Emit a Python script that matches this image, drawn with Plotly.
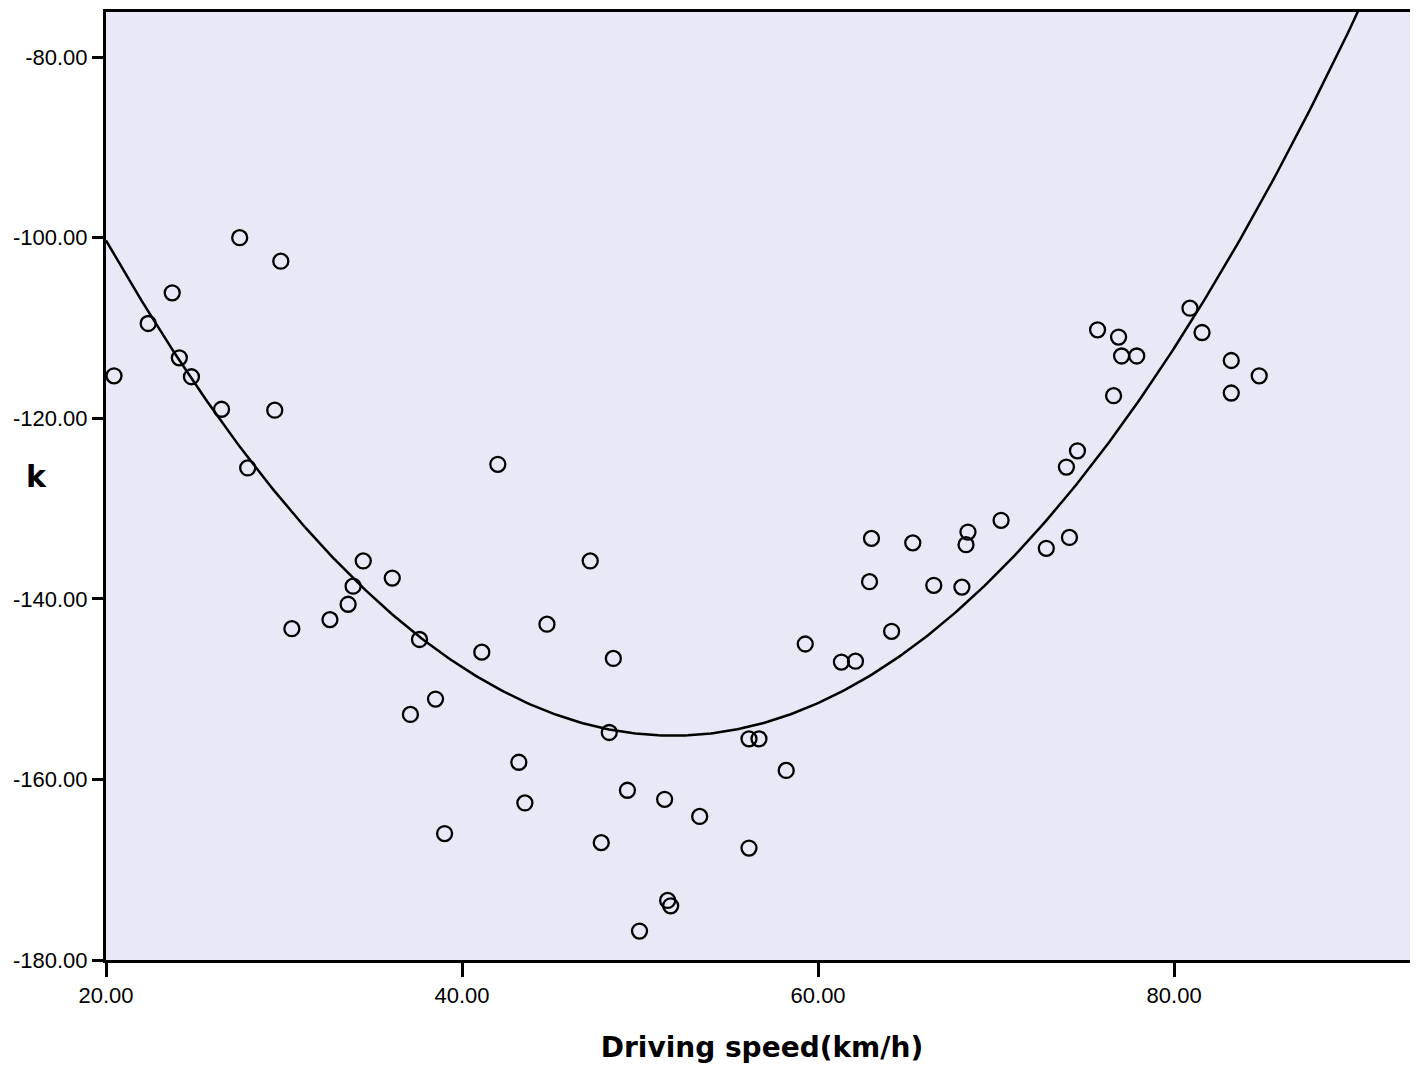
import numpy as np
import plotly.graph_objects as go

speed = [20.45, 22.37, 23.72, 24.12, 24.80, 26.49, 27.51, 27.96, 29.82, 29.48,
         30.44, 32.58, 33.60, 33.88, 34.45, 36.08, 37.61, 37.10, 38.51, 39.02,
         41.11, 42.01, 43.19, 43.53, 44.77, 47.20, 48.27, 48.50, 47.82, 49.29,
         49.97, 51.38, 51.55, 51.72, 53.35, 56.12, 56.68, 56.12, 58.21, 59.28,
         61.31, 62.10, 63.00, 62.89, 64.13, 65.32, 66.50, 68.08, 68.42, 68.31,
         70.28, 72.82, 74.12, 73.95, 74.57, 75.70, 76.88, 77.05, 77.90, 76.60,
         80.89, 81.57, 83.21, 83.21, 84.78]
k_vals = [-115.3, -109.5, -106.1, -113.3, -115.4, -119.0, -100.0, -125.5, -102.6, -119.1,
          -143.3, -142.3, -140.6, -138.6, -135.8, -137.7, -144.5, -152.8, -151.1, -166.0,
          -145.9, -125.1, -158.1, -162.6, -142.8, -135.8, -154.8, -146.6, -167.0, -161.2,
          -176.8, -162.2, -173.4, -174.0, -164.1, -155.5, -155.5, -167.6, -159.0, -145.0,
          -147.0, -146.9, -133.3, -138.1, -143.6, -133.8, -138.5, -138.7, -132.6, -134.0,
          -131.3, -134.4, -133.2, -125.4, -123.6, -110.2, -111.0, -113.1, -113.1, -117.5,
          -107.8, -110.5, -113.6, -117.2, -115.3]

x_ticks = [20, 40, 60, 80]
y_ticks = [-180, -160, -140, -120, -100, -80]
x_range = [20, 93.7]
y_range = [-180, -75]

coef = np.polyfit(speed, k_vals, 2)
xf = np.linspace(x_range[0], x_range[1], 400)
yf = np.polyval(coef, xf)

fig = go.Figure()
fig.add_trace(go.Scatter(x=xf, y=yf, mode="lines", line=dict(color="black", width=2.5),
                         hoverinfo="skip", showlegend=False))
fig.add_trace(go.Scatter(x=speed, y=k_vals, mode="markers",
                         marker=dict(symbol="circle-open", size=15, color="black",
                                     line=dict(width=2.3, color="black")),
                         showlegend=False))

font_fam = "DejaVu Sans, Arial, sans-serif"
tick_font = dict(family="Liberation Sans, Arial, sans-serif", size=22, color="black")
fig.update_layout(
    width=1418, height=1067,
    margin=dict(l=98, r=8, t=4, b=115),
    paper_bgcolor="white", plot_bgcolor="#E8E8F6",
    font=dict(family=font_fam, color="black", size=21),
    xaxis=dict(range=x_range, tickvals=x_ticks, ticktext=[f"{v:.2f}" for v in x_ticks],
               tickfont=tick_font, automargin=False,
               ticks="outside", ticklen=14, tickwidth=3, tickcolor="black",
               showgrid=False, zeroline=False, showline=True, linecolor="black",
               linewidth=3, mirror=True,
               title=dict(text="<b>Driving speed(km/h)</b>", font=dict(size=28), standoff=30)),
    yaxis=dict(range=y_range, tickvals=y_ticks, ticktext=[f"{v:.2f}" for v in y_ticks],
               tickfont=tick_font, automargin=False,
               ticks="outside", ticklen=11, tickwidth=3, tickcolor="black",
               showgrid=False, zeroline=False, showline=True, linecolor="black",
               linewidth=3, mirror=True),
)
fig.add_annotation(text="<b>k</b>", xref="paper", yref="paper", x=-0.053, y=0.51,
                   showarrow=False, font=dict(size=30, family=font_fam), xanchor="center",
                   yanchor="middle")

fig.write_html("out.html")
